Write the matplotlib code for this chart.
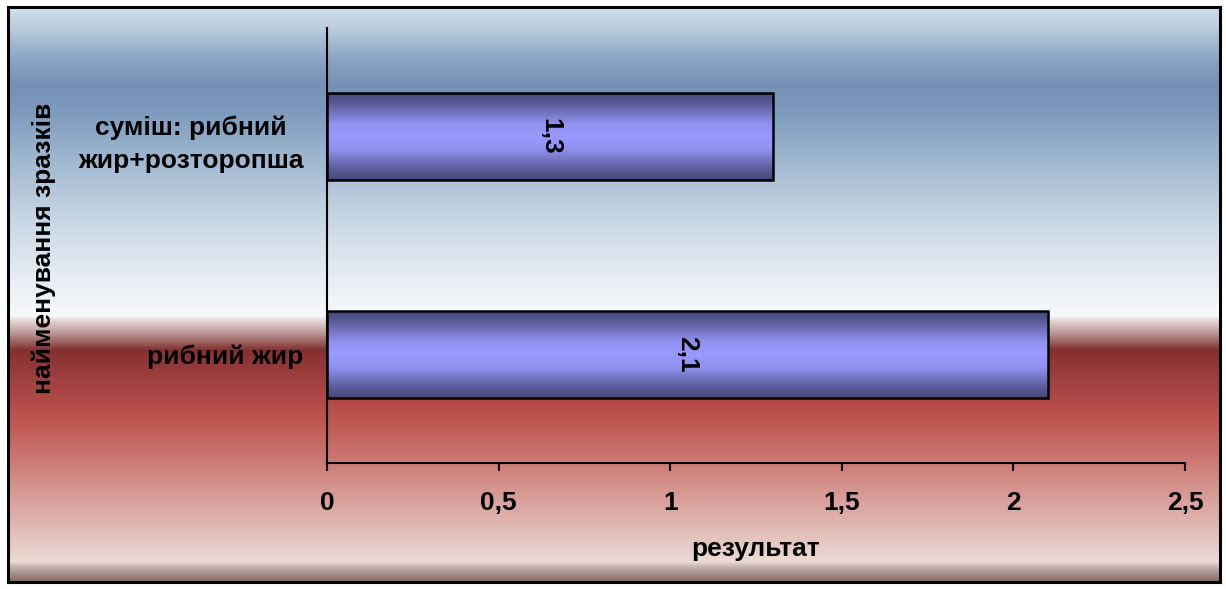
import numpy as np
import matplotlib
matplotlib.use("Agg")
import matplotlib.pyplot as plt
from matplotlib.colors import LinearSegmentedColormap, to_rgb
from matplotlib.ticker import FuncFormatter

plt.rcParams['font.family'] = ['Liberation Sans', 'DejaVu Sans']
plt.rcParams['font.weight'] = 'bold'

# data
categories = ['рибний жир', 'суміш: рибний\nжир+розторопша']
values = [2.1, 1.3]
x_ticks = [0, 0.5, 1, 1.5, 2, 2.5]
x_title = 'результат'
y_title = 'найменування зразків'

FS = 19
W, H = 1226, 589
fig = plt.figure(figsize=(W / 100, H / 100), dpi=100)

# background gradient (pixel rows from the top, colour)
bg_stops = [(0, '#dde7f0'), (30, '#b7cadc'), (60, '#8aa3c3'), (85, '#7690b5'),
            (110, '#7c9abd'), (160, '#a0b8d0'), (220, '#c8d7e5'), (280, '#e8eef4'),
            (316, '#f8f9fb'), (320, '#e9dada'), (334, '#b89292'), (346, '#8e4a46'),
            (350, '#853030'), (380, '#a04040'), (420, '#bf5550'), (460, '#cc7873'),
            (500, '#d9a09b'), (540, '#e4c5bf'), (562, '#ecdcd6'), (567, '#c9b6b1'),
            (574, '#a8908c'), (582, '#8a6863')]
rows = np.arange(576) + 7
pos = np.array([s[0] for s in bg_stops], float)
cols = np.array([to_rgb(s[1]) for s in bg_stops])
grad = np.stack([np.interp(rows, pos, cols[:, k]) for k in range(3)], axis=1)
bg = fig.add_axes([8 / W, 1 - 582 / H, 1212 / W, 575 / H])
bg.imshow(grad[:, None, :], aspect='auto', extent=[0, 1, 0, 1], interpolation='bilinear')
bg.set_xticks([])
bg.set_yticks([])
for s in bg.spines.values():
    s.set_linewidth(2.2)
    s.set_color('black')
bg.set_zorder(0)

ax = fig.add_axes([327 / W, 1 - 463 / H, 858 / W, 435 / H])
ax.set_zorder(1)
ax.patch.set_alpha(0)

# bar fill: dark edges, light middle
bar_cmap = LinearSegmentedColormap.from_list(
    'barfill', [(0, '#45477a'), (0.12, '#5a5c98'), (0.35, '#9191f0'),
                (0.5, '#9999ff'), (0.65, '#9191f0'), (0.88, '#5a5c98'), (1, '#45477a')])
profile = np.linspace(0, 1, 200)[:, None]
bar_h = 0.4
ypos = np.arange(len(categories))
for y, v in zip(ypos, values):
    ax.imshow(profile, cmap=bar_cmap, aspect='auto', interpolation='bilinear',
              extent=[0, v, y - bar_h / 2, y + bar_h / 2], zorder=2)
    ax.barh(y, v, height=bar_h, facecolor='none', edgecolor='black', linewidth=1.8, zorder=3)
    ax.text(v / 2, y, f'{v:.1f}'.replace('.', ','), rotation=-90, ha='center', va='center',
            fontsize=FS, fontweight='bold', zorder=4)

ax.set_xlim(0, 2.5)
ax.set_ylim(-0.5, 1.5)
ax.set_xticks(x_ticks)
ax.xaxis.set_major_formatter(FuncFormatter(lambda x, p: f'{x:g}'.replace('.', ',')))
ax.set_yticks(ypos)
ax.set_yticklabels(categories, ha='right', multialignment='center', fontsize=FS,
                   fontweight='bold', linespacing=1.5)
ax.tick_params(axis='y', length=0, pad=17)
ax.tick_params(axis='x', length=6, width=1.5, direction='out', pad=14, labelsize=FS)
for lab in ax.get_xticklabels():
    lab.set_fontweight('bold')
for side in ['top', 'right']:
    ax.spines[side].set_visible(False)
for side in ['left', 'bottom']:
    ax.spines[side].set_linewidth(1.5)

fig.text(756 / W, 1 - 549 / H, x_title, ha='center', va='center', fontsize=FS, fontweight='bold')
fig.text(44 / W, 1 - 248 / H, y_title, rotation=90, ha='center', va='center',
         fontsize=FS, fontweight='bold')

fig.savefig('out.png', dpi=100)
